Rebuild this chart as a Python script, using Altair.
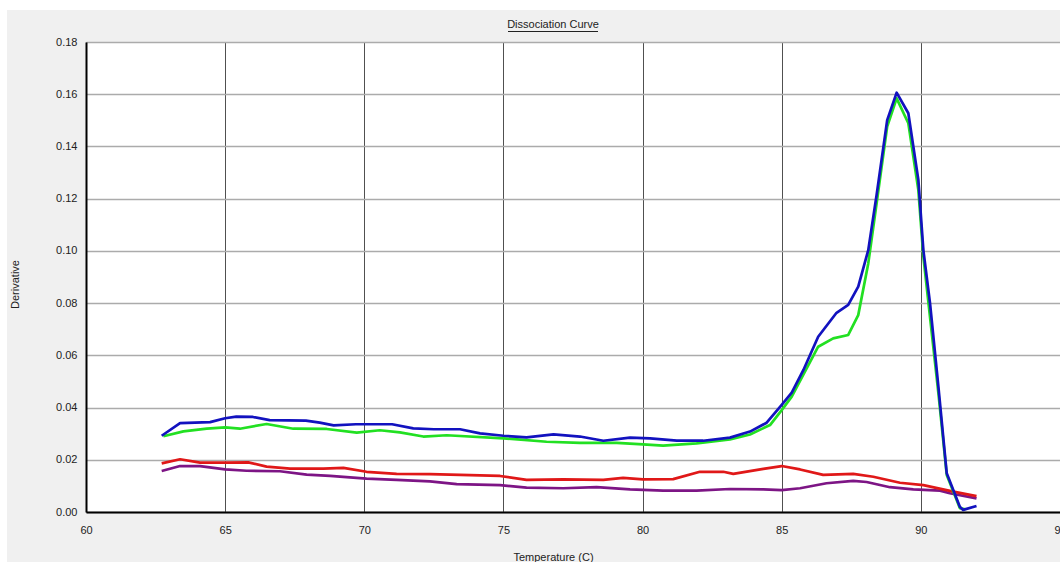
import altair as alt
import pandas as pd

# ---- data ----
blue_t = [62.72, 63.38, 64.46, 65.0, 65.4, 66.0, 66.6, 67.9, 68.4, 68.9, 69.7, 71.0, 71.76, 72.5,
          73.44, 74.16, 75.0, 75.83, 76.8, 77.75, 78.59, 79.55, 80.27, 81.23, 82.18, 83.14, 83.86,
          84.46, 85.0, 85.36, 85.78, 86.31, 86.97, 87.39, 87.75, 88.11, 88.41, 88.79, 89.13, 89.55,
          89.91, 90.09, 90.33, 90.63, 90.93, 91.4, 91.52, 92.0]
blue_v = [0.0292, 0.034, 0.0344, 0.0359, 0.0365, 0.0364, 0.0352, 0.035, 0.0342, 0.0332, 0.0336,
          0.0336, 0.032, 0.0317, 0.0317, 0.0301, 0.0292, 0.0286, 0.0297, 0.0289, 0.0273, 0.0285,
          0.0282, 0.0273, 0.0273, 0.0285, 0.0308, 0.0342, 0.0410, 0.0457, 0.0544, 0.0671, 0.0763,
          0.0793, 0.0863, 0.1003, 0.1214, 0.1501, 0.1606, 0.1527, 0.1272, 0.1003, 0.0799, 0.048,
          0.0148, 0.002, 0.0008, 0.0023]

green_t = [62.78, 63.5, 64.34, 65.0, 65.53, 66.49, 67.45, 68.65, 69.73, 70.56, 71.28, 72.12, 72.96,
           75.0, 76.55, 77.75, 79.07, 80.02, 80.74, 81.94, 83.14, 83.86, 84.58, 85.0, 85.36, 86.31,
           86.85, 87.39, 87.75, 88.11, 88.41, 88.79, 89.13, 89.55, 89.91, 90.09, 90.63, 90.93,
           91.17, 91.4, 91.6]
green_v = [0.029, 0.0309, 0.0319, 0.0324, 0.0319, 0.0337, 0.0319, 0.0318, 0.0304, 0.0313, 0.0305,
           0.0289, 0.0294, 0.0282, 0.0269, 0.0265, 0.0265, 0.0259, 0.0254, 0.0263, 0.0278, 0.0297,
           0.0333, 0.039, 0.0442, 0.0633, 0.0665, 0.0678, 0.0754, 0.0952, 0.1182, 0.1476, 0.1584,
           0.1489, 0.1233, 0.0978, 0.0455, 0.0142, 0.0078, 0.0015, 0.001]

red_t = [62.72, 63.38, 64.1, 65.0, 65.83, 66.49, 67.33, 68.53, 69.25, 70.08, 71.16, 72.36, 74.88,
         75.83, 77.15, 78.59, 79.3, 80.02, 81.1, 82.06, 82.9, 83.26, 84.34, 85.0, 85.66, 86.49,
         87.57, 88.29, 89.25, 90.09, 91.17, 92.0]
red_v = [0.0186, 0.0202, 0.0189, 0.0189, 0.019, 0.0174, 0.0166, 0.0166, 0.0169, 0.0154, 0.0146,
         0.0145, 0.0138, 0.0123, 0.0125, 0.0123, 0.0131, 0.0125, 0.0126, 0.0154, 0.0154, 0.0146,
         0.0165, 0.0176, 0.0163, 0.0142, 0.0146, 0.0135, 0.0112, 0.0103, 0.0078, 0.0061]

purple_t = [62.72, 63.38, 64.1, 65.0, 65.77, 66.97, 67.93, 68.77, 70.08, 71.16, 72.36, 73.32, 74.88,
            75.83, 77.15, 78.35, 79.55, 80.74, 81.94, 83.14, 84.34, 85.0, 85.66, 86.61, 87.57,
            88.05, 88.89, 89.73, 90.69, 91.04, 92.0]
purple_v = [0.0157, 0.0176, 0.0176, 0.0163, 0.0158, 0.0156, 0.0143, 0.0138, 0.0128, 0.0123, 0.0117,
            0.0107, 0.0103, 0.0093, 0.0091, 0.0095, 0.0087, 0.0082, 0.0082, 0.0088, 0.0087, 0.0084,
            0.0091, 0.011, 0.0119, 0.0115, 0.0095, 0.0087, 0.0082, 0.0072, 0.0052]

x_ticks = [60, 65, 70, 75, 80, 85, 90, 95]
y_ticks = [0.0, 0.02, 0.04, 0.06, 0.08, 0.10, 0.12, 0.14, 0.16, 0.18]

series = [
    ("purple", purple_t, purple_v, "#7d1585"),
    ("red", red_t, red_v, "#e01818"),
    ("green", green_t, green_v, "#22e022"),
    ("blue", blue_t, blue_v, "#1212bf"),
]

rows = []
for name, ts, vs, _ in series:
    for t, v in zip(ts, vs):
        rows.append({"series": name, "temp": t, "deriv": v})
df = pd.DataFrame(rows)

FONT = "Liberation Sans"

x_enc = alt.X("temp:Q",
              scale=alt.Scale(domain=[60, 95], nice=False, zero=False),
              axis=alt.Axis(values=x_ticks, format="d", grid=True, gridColor="#505050",
                            gridWidth=1, ticks=False, labelPadding=12, labelFlush=False,
                            domainColor="#000000", domainWidth=2,
                            title="Temperature (C)", titleX=467, titleY=48,
                            titleBaseline="alphabetic", titleAlign="center",
                            titleFontWeight="normal", titleFontSize=11, titleFont=FONT,
                            titleColor="#222222"))
y_enc = alt.Y("deriv:Q",
              scale=alt.Scale(domain=[0, 0.18], nice=False),
              axis=alt.Axis(values=y_ticks, format=".2f", grid=True, gridColor="#ababab",
                            gridWidth=1.3, ticks=False, labelPadding=9,
                            domainColor="#000000", domainWidth=2,
                            title="Derivative", titleX=-71, titleY=242, titleAngle=270,
                            titleAlign="center", titleBaseline="middle",
                            titleFontWeight="normal", titleFontSize=11, titleFont=FONT,
                            titleColor="#222222"))

base = alt.Chart(df).encode(x=x_enc, y=y_enc)
lines = [base.transform_filter(alt.datum.series == name)
         .mark_line(color=col, strokeWidth=2.7, strokeJoin="round")
         for name, _, _, col in series]

one = pd.DataFrame({"a": [0]})
top_strip = alt.Chart(one).mark_rect(color="white").encode(
    x=alt.value(-86), x2=alt.value(974), y=alt.value(-42), y2=alt.value(-32))
left_strip = alt.Chart(one).mark_rect(color="white").encode(
    x=alt.value(-86), x2=alt.value(-79), y=alt.value(-42), y2=alt.value(520))
title = alt.Chart(one).mark_text(text="Dissociation Curve", font=FONT, fontSize=11,
                                 color="#222222", align="center", baseline="alphabetic").encode(
    x=alt.value(467), y=alt.value(-14))
underline = alt.Chart(one).mark_rule(color="#222222", strokeWidth=1).encode(
    x=alt.value(422), x2=alt.value(512), y=alt.value(-10.5))

chart = alt.layer(top_strip, left_strip, *lines, title, underline).properties(
    width=974, height=470,
    autosize=alt.AutoSizeParams(type="none"),
    padding={"left": 86, "top": 42, "right": 0, "bottom": 50},
    background="#f0f0f0",
).configure_view(fill="white", strokeWidth=0).configure_axis(
    labelFont=FONT, labelFontSize=11, labelColor="#222222"
)

chart.save("out.html", embed_options={"renderer": "svg", "actions": False})
